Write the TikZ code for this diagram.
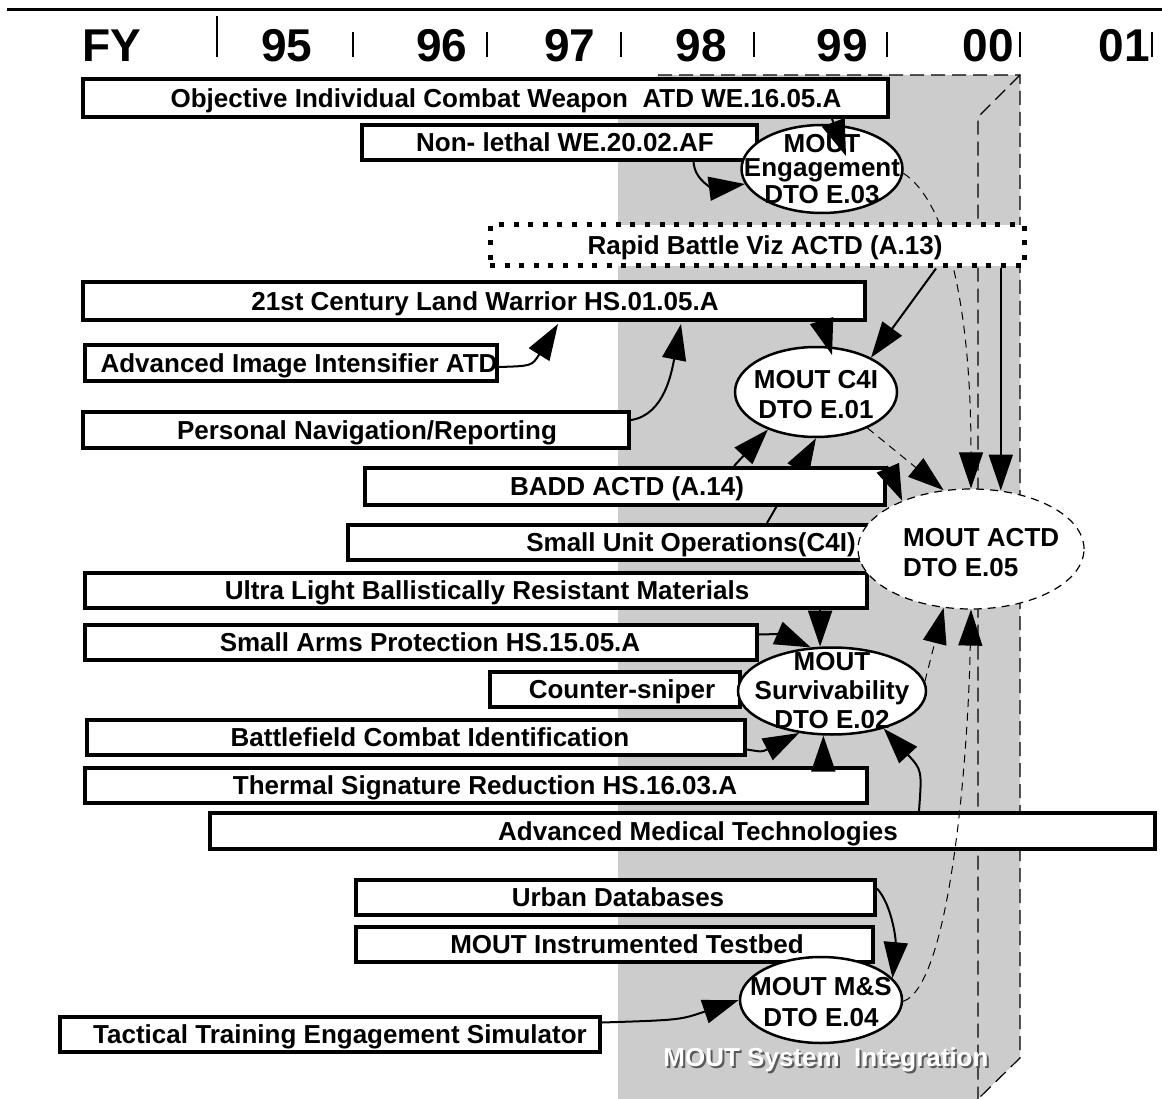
\documentclass[tikz,border=0pt]{standalone}
\usepackage{fontspec}
\setmainfont{Liberation Sans}
\usetikzlibrary{arrows.meta,shapes.geometric,fit,backgrounds}

% box with its text: name, x1, y1, x2, y2, text x, text
\newcommand{\tbox}[7]{%
  \node[blk, fit={(#2,#3) (#4,#5)}] (#1) {};
  \node[btxt] (#1-t) at (#6,{(#3+#5)/2}) {#7};}

\tikzset{
  blk/.style={draw, line width=4pt, fill=white, inner sep=0pt},
  dotbox/.style={draw, line width=5pt, fill=white, inner sep=0pt, dash pattern=on 5pt off 9.6pt},
  btxt/.style={font=\fontsize{26}{30}\selectfont\bfseries, inner sep=0pt, text height=18.6pt, text depth=0pt},
  yr/.style={font=\fontsize{46}{50}\selectfont\bfseries, inner sep=0pt, anchor=base},
  oval/.style={ellipse, draw, line width=2.5pt, fill=white, inner sep=0pt},
  dashoval/.style={oval, line width=1.2pt, dash pattern=on 8pt off 6pt},
  otxt/.style={font=\fontsize{26}{30}\selectfont\bfseries, inner sep=0pt, align=center},
  link/.style={line width=2pt, -{Triangle[length=36pt,width=24pt]}},
  dlink/.style={link, line width=1pt, dash pattern=on 8pt off 6pt},
  gridln/.style={line width=1.2pt, dash pattern=on 14pt off 7pt},
}

\begin{document}
\begin{tikzpicture}[x=1pt, y=-1pt]
\useasboundingbox (0,0) rectangle (1162,1099);

% year header
\draw[line width=3pt] (7,10) -- (1162,10);
\node[yr] (fy) at (112,62) {FY};
\node[yr] (y95) at (287,62) {95};
\node[yr] (y96) at (442,62) {96};
\node[yr] (y97) at (570,62) {97};
\node[yr] (y98) at (701,62) {98};
\node[yr] (y99) at (842,62) {99};
\node[yr] (y00) at (988,62) {00};
\node[yr] (y01) at (1124,62) {01};
\draw[line width=2pt] (217,16) -- (217,57);
\foreach \x in {353,487,621,754,887,1020,1152}
  \draw[line width=2.5pt] (\x,32) -- (\x,57);

% programs
\tbox{oicw}{83}{79}{888}{117}{506}{Objective Individual Combat Weapon~ ATD WE.16.05.A}
\tbox{nonleth}{362}{125}{757}{160}{565}{Non- lethal WE.20.02.AF}
\node[dotbox, fit={(490,225) (1024,266)}] (rapid) {};
\node[btxt] (rapid-t) at (765,245.5) {Rapid Battle Viz ACTD (A.13)};
\tbox{lw21}{83}{282}{865}{320}{485}{21st Century Land Warrior HS.01.05.A}
\tbox{aiiatd}{85}{345}{497}{381}{299}{Advanced Image Intensifier ATD}
\tbox{pnav}{83}{412}{629}{448}{367}{Personal Navigation/Reporting}
\tbox{badd}{365}{468}{885}{505}{627}{BADD ACTD (A.14)}
\tbox{suo}{348}{525}{1034}{560}{691}{Small Unit Operations(C4I)}
\tbox{ulbrm}{85}{573}{867}{608}{487}{Ultra Light Ballistically Resistant Materials}
\tbox{sap}{85}{625}{757}{660}{430}{Small Arms Protection HS.15.05.A}
\tbox{csnip}{490}{672}{740}{707}{622}{Counter-sniper}
\tbox{bci}{87}{720}{745}{755}{430}{Battlefield Combat Identification}
\tbox{tsr}{85}{768}{867}{803}{485}{Thermal Signature Reduction HS.16.03.A}
\tbox{amt}{210}{813}{1155}{849}{698}{Advanced Medical Technologies}
\tbox{udb}{356}{880}{875}{915}{618}{Urban Databases}
\tbox{mit}{356}{927}{873}{962}{627}{MOUT Instrumented Testbed}
\tbox{ttes}{60}{1017}{600}{1052}{340}{Tactical Training Engagement Simulator}

% DTOs
\node[oval, minimum width=161pt, minimum height=88pt] (eng) at (822,169) {};
\node[otxt] (eng-t) at (822,169) {MOUT\\[-6pt]Engagement\\[-3pt]DTO E.03};
\node[oval, minimum width=162pt, minimum height=90pt] (c4i) at (816,392) {};
\node[otxt] (c4i-t) at (816,395) {MOUT C4I\\DTO E.01};
\node[dashoval, minimum width=226pt, minimum height=120pt] (actd) at (971,549) {};
\node[otxt, align=left, anchor=west] (actd-t) at (903,553) {MOUT ACTD\\DTO E.05};
\node[oval, minimum width=188pt, minimum height=87pt] (surv) at (832,691) {};
\node[otxt, font=\fontsize{26}{29}\selectfont\bfseries] (surv-t) at (832,691) {MOUT\\Survivability\\DTO E.02};
\node[oval, minimum width=162pt, minimum height=86pt] (mns) at (821,1000) {};
\node[otxt, font=\fontsize{26}{31}\selectfont\bfseries] (mns-t) at (821,1002.5) {MOUT M\&S\\DTO E.04};

% system integration block and lines behind the boxes
\begin{scope}[on background layer]
  \fill[black!20] (618,1099) -- (618,115) -- (658,75) -- (1020,75)
    -- (1020,1058) -- (978,1099) -- cycle;
  \draw[gridln] (658,75) -- (1020,75) -- (1020,1058) -- (978,1099);
  \draw[gridln] (1020,75) -- (978,117) -- (978,1099);
  \draw[dlink] (eng.-3) .. controls (945,200) and (971,300) .. (actd.north);
  \draw[link] ([xshift=76pt]suo.north) -- (c4i.south);
\end{scope}

% links
\draw[link] ([xshift=346.5pt]oicw.south) -- ([xshift=24pt,yshift=13pt]eng.center);
\draw[link] ([xshift=134pt]nonleth.south) .. controls (695,182) and (715,188) .. (eng.191);
\draw[link] ([xshift=179pt]rapid.south) -- (c4i.32);
\draw[link] ([xshift=348pt]lw21.south) -- ([xshift=16pt,yshift=37pt]c4i.center);
\draw[link] ([yshift=-4pt]aiiatd.east) .. controls (532,366) .. ([xshift=84pt,yshift=-2pt]lw21.south);
\draw[link] ([yshift=10pt]pnav.east) .. controls (665,415) and (672,370) .. ([xshift=207pt,yshift=-2pt]lw21.south);
\draw[link] ([xshift=109pt]badd.north) -- (c4i.218);
\draw[dlink] (c4i.-35) -- (actd.115);
\draw[link] (badd.north east) -- (actd.145);
\draw[link] (rapid.south -| actd.63) -- (actd.63);
\draw[link] (ulbrm.south -| surv.105) -- (surv.105);
\draw[link] ([yshift=8pt]sap.east) .. controls (780,634) .. (surv.116);
\draw[link] ([yshift=-12pt]bci.east) .. controls (762,752) .. (surv.232);
\draw[link] (tsr.north -| surv.259) -- (surv.259);
\draw[link] ([xshift=236.5pt]amt.north) .. controls (922,770) .. (surv.-36);
\draw[dlink] (surv.6) -- (actd.-115);
\draw[dlink] (mns.-1) .. controls (950,985) and (968,760) .. (actd.south);
\draw[link] ([yshift=9pt]udb.east) .. controls (892,905) and (896,940) .. (mns.17);
\draw[link] ([yshift=12pt]ttes.east) .. controls (680,1020) .. (mns.west);

% block title
\node[btxt, text=black!65] (sint-s) at (828,1059) {MOUT System~ Integration};
\node[btxt, text=white] (sint) at (826,1057) {MOUT System~ Integration};
\end{tikzpicture}
\end{document}
